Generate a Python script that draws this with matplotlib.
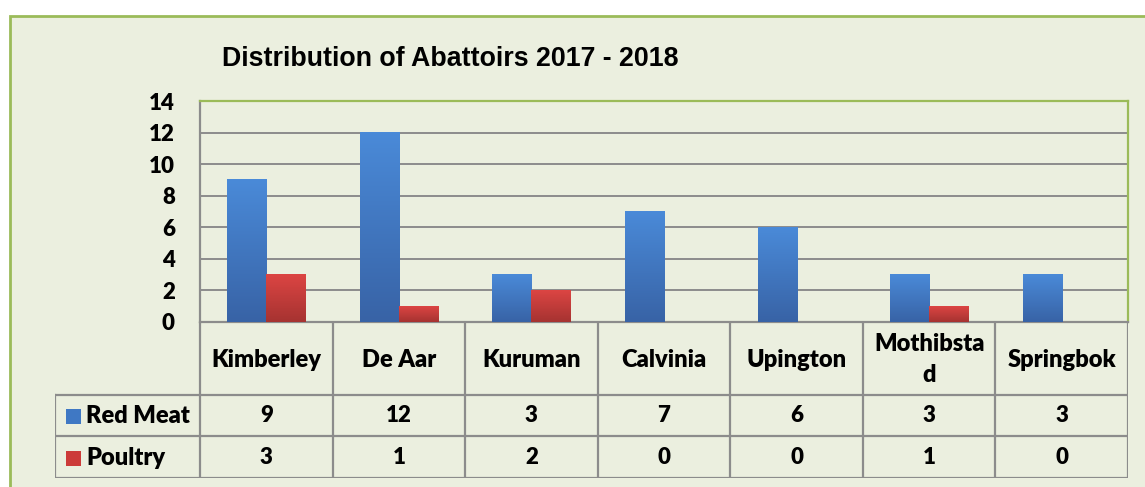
import numpy as np
import matplotlib.pyplot as plt
from matplotlib.patches import Rectangle
from matplotlib.colors import to_rgb

# Data
categories = ["Kimberley", "De Aar", "Kuruman", "Calvinia", "Upington", "Mothibsta\nd", "Springbok"]
red_meat = [9, 12, 3, 7, 6, 3, 3]
poultry = [3, 1, 2, 0, 0, 1, 0]
series_names = ["Red Meat", "Poultry"]
y_ticks = [0, 2, 4, 6, 8, 10, 12, 14]

W, H = 1145, 487
BG = "#EBEFDF"
GREEN = "#9BBB59"
GRID = "#8C8C8C"
TXT_FONT = ["Lato", "DejaVu Sans"]
WEIGHT = "heavy"


def fx(px):
    return px / W


def fy(py):
    return 1 - py / H


def gradient_bar(ax, x, width, height, top, bottom):
    if height <= 0:
        return
    grad = np.linspace(0, 1, 64).reshape(-1, 1, 1)
    img = np.array(to_rgb(top)) * (1 - grad) + np.array(to_rgb(bottom)) * grad
    ax.imshow(img, extent=(x - width / 2, x + width / 2, 0, height),
              aspect="auto", origin="upper", zorder=3, interpolation="bilinear")


fig = plt.figure(figsize=(W / 100, H / 100), dpi=100)
fig.patch.set_facecolor("white")

# outer chart area with green border
fig.patches.append(Rectangle((fx(10), fy(500)), fx(1160) - fx(10), fy(16) - fy(500),
                             transform=fig.transFigure, facecolor=BG, edgecolor=GREEN,
                             lw=2, zorder=-5))

fig.text(fx(222), fy(58.5), "Distribution of Abattoirs 2017 - 2018", fontsize=19.3,
         fontweight="bold", family="Liberation Sans", ha="left", va="center")

# Bar chart area
ax = fig.add_axes([fx(200), fy(322), fx(1128) - fx(200), (322 - 101) / H])
ax.set_facecolor("none")
ax.set_xlim(0, len(categories))
ax.set_ylim(0, 14)
ax.set_yticks(y_ticks)
ax.set_yticklabels([str(v) for v in y_ticks], fontsize=16, fontweight=WEIGHT, family=TXT_FONT)
ax.tick_params(axis="y", length=0, pad=18)
ax.set_xticks([])
ax.yaxis.grid(True, color=GRID, lw=1.4, zorder=1)
ax.set_axisbelow(True)
for side in ["left", "bottom"]:
    ax.spines[side].set_color(GRID)
    ax.spines[side].set_linewidth(1.6)
for side in ["top", "right"]:
    ax.spines[side].set_color(GREEN)
    ax.spines[side].set_linewidth(1.6)

bw = 39 / 132.57
x = np.arange(len(categories)) + 0.5
for xi, v in zip(x - bw / 2, red_meat):
    gradient_bar(ax, xi, bw, v, "#4A8AD8", "#3863A6")
for xi, v in zip(x + bw / 2, poultry):
    gradient_bar(ax, xi, bw, v, "#DC4543", "#A63331")
ax.set_xlim(0, len(categories))
ax.set_ylim(0, 14)

# Data table below the chart
x_left = -(200 - 55) / ((1128 - 200) / len(categories))
tax = fig.add_axes([fx(55), fy(478), fx(1128) - fx(55), (478 - 322) / H])
tax.set_xlim(x_left, len(categories))
tax.set_ylim(478, 322)
tax.axis("off")

lw = 1.6
for yy in [395, 436, 478]:
    tax.plot([x_left, len(categories)], [yy, yy], color=GRID, lw=lw, solid_capstyle="butt")
for i in range(len(categories) + 1):
    tax.plot([i, i], [322, 478], color=GRID, lw=lw)
tax.plot([x_left, x_left], [395, 478], color=GRID, lw=lw)

for xi, name in zip(x, categories):
    tax.text(xi, 359.5, name, ha="center", va="center", fontsize=17, fontweight=WEIGHT,
             family=TXT_FONT, linespacing=1.5)
for row_y, vals in [(416, red_meat), (458, poultry)]:
    for xi, v in zip(x, vals):
        tax.text(xi, row_y, str(v), ha="center", va="center", fontsize=16,
                 fontweight=WEIGHT, family=TXT_FONT)

unit = (1128 - 200) / len(categories)
for row_y, name, col in [(416, series_names[0], "#3F78C4"), (458, series_names[1], "#CC3B39")]:
    tax.add_patch(Rectangle((x_left + 11 / unit, row_y - 7.5), 15 / unit, 15,
                            facecolor=col, edgecolor="none"))
    tax.text(x_left + 31 / unit, row_y, name, ha="left", va="center", fontsize=17,
             fontweight=WEIGHT, family=TXT_FONT)

fig.savefig("out.png", dpi=100)
